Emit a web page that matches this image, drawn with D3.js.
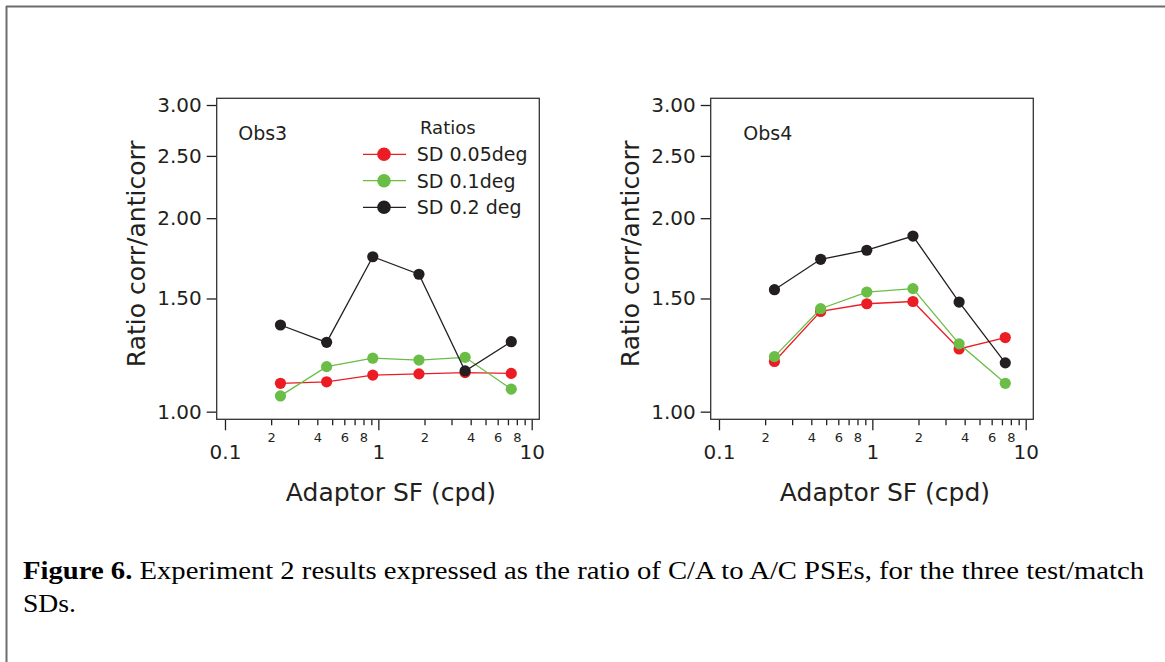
<!DOCTYPE html>
<html>
<head>
<meta charset="utf-8">
<script src="https://cdn.jsdelivr.net/npm/d3@7"></script>
<style>
  html, body { margin: 0; padding: 0; background: #fff; }
  svg { display: block; }
</style>
</head>
<body>
<svg id="chart" width="1165" height="662"></svg>
<script>
// ---- data ----
const adaptorSF = [0.23, 0.46, 0.92, 1.84, 3.68, 7.36];
const seriesNames = ["SD 0.05deg", "SD 0.1deg", "SD 0.2 deg"];
const seriesColors = ["#ec1c24", "#6abd45", "#231f20"];
const obs3_sd005 = [1.107, 1.113, 1.140, 1.145, 1.150, 1.147];
const obs3_sd01  = [1.058, 1.175, 1.211, 1.203, 1.215, 1.084];
const obs3_sd02  = [1.364, 1.282, 1.742, 1.636, 1.157, 1.285];
const obs4_sd005 = [1.197, 1.432, 1.472, 1.484, 1.252, 1.304];
const obs4_sd01  = [1.218, 1.446, 1.535, 1.554, 1.275, 1.107];
const obs4_sd02  = [1.548, 1.726, 1.783, 1.876, 1.481, 1.191];
const yTickValues = [1.00, 1.50, 2.00, 2.50, 3.00];
const xMajorTicks = [0.1, 1, 10];
const xMinorTicks = [0.2,0.3,0.4,0.5,0.6,0.7,0.8,0.9,2,3,4,5,6,7,8,9];
const xMinorLabelled = [2, 4, 6, 8];
const panelTitles = ["Obs3", "Obs4"];
const legendTitle = "Ratios";
const yTitle = "Ratio corr/anticorr";
const xTitle = "Adaptor SF (cpd)";
const captionBold = "Figure 6.";
const captionRest = " Experiment 2 results expressed as the ratio of C/A to A/C PSEs, for the three test/match";
const captionLine2 = "SDs.";

const panels = [
  { title: panelTitles[0], series: [obs3_sd005, obs3_sd01, obs3_sd02], legend: true },
  { title: panelTitles[1], series: [obs4_sd005, obs4_sd01, obs4_sd02], legend: false }
];

const svg = d3.select("#chart");
const FONT = "DejaVu Sans, Verdana, sans-serif";
const SERIF = "'Liberation Serif', 'Times New Roman', Times, serif";
const INK = "#231f20";

svg.append("rect").attr("width", 1165).attr("height", 662).attr("fill", "#fff");
// page border (top and left)
svg.append("line").attr("x1", 6).attr("x2", 1165).attr("y1", 6.5).attr("y2", 6.5)
  .attr("stroke", "#6d6d6d").attr("stroke-width", 2);
svg.append("line").attr("x1", 6.5).attr("x2", 6.5).attr("y1", 6).attr("y2", 662)
  .attr("stroke", "#6d6d6d").attr("stroke-width", 2);

const W = 322.6, H = 321;
const panelLefts = [216.7, 710.7];
const panelTop = 98.3;

const x = d3.scaleLog().domain([Math.pow(10, -1.054), Math.pow(10, 1.0496)]).range([0, W]);
const y = d3.scaleLog().domain([0.973, 3.073]).range([H, 0]);

const mantissa = d => Math.round(d / Math.pow(10, Math.floor(Math.log10(d) + 1e-9)));

panels.forEach((p, pi) => {
  const g = svg.append("g").attr("transform", `translate(${panelLefts[pi]},${panelTop})`);

  // y axis
  const ya = g.append("g").call(d3.axisLeft(y).tickValues(yTickValues)
      .tickFormat(d3.format(".2f")).tickSize(10).tickPadding(5));
  ya.select(".domain").remove();
  ya.selectAll("line").attr("stroke", INK).attr("stroke-width", 1.3);
  ya.selectAll("text").attr("font-family", FONT).attr("font-size", 20).attr("fill", INK);

  // x axis minor
  const xm = g.append("g").attr("transform", `translate(0,${H})`)
    .call(d3.axisBottom(x).tickValues(xMinorTicks).tickSize(6).tickPadding(7)
      .tickFormat(d => xMinorLabelled.includes(mantissa(d)) ? String(mantissa(d)) : ""));
  xm.select(".domain").remove();
  xm.selectAll("line").attr("stroke", INK).attr("stroke-width", 1.3);
  xm.selectAll("text").attr("font-family", FONT).attr("font-size", 13).attr("fill", INK);

  // x axis major
  const xM = g.append("g").attr("transform", `translate(0,${H})`)
    .call(d3.axisBottom(x).tickValues(xMajorTicks).tickSize(11).tickPadding(15)
      .tickFormat(d => d < 1 ? "0.1" : String(d)));
  xM.select(".domain").remove();
  xM.selectAll("line").attr("stroke", INK).attr("stroke-width", 1.3);
  xM.selectAll("text").attr("font-family", FONT).attr("font-size", 20).attr("fill", INK);

  // frame
  g.append("rect").attr("x", 0).attr("y", 0).attr("width", W).attr("height", H)
    .attr("fill", "none").attr("stroke", "#333").attr("stroke-width", 1.3);

  // axis titles
  g.append("text").attr("transform", `translate(${-71.5},${H / 2 - 5}) rotate(-90)`)
    .attr("text-anchor", "middle").attr("font-family", FONT).attr("font-size", 25)
    .attr("fill", INK).text(yTitle);
  g.append("text").attr("x", W / 2 + 13).attr("y", 500.7 - panelTop)
    .attr("text-anchor", "middle").attr("font-family", FONT).attr("font-size", 25)
    .attr("fill", INK).text(xTitle);

  // panel label
  g.append("text").attr("x", pi === 0 ? 21.5 : 32.6).attr("y", 140 - panelTop)
    .attr("font-family", FONT).attr("font-size", 19).attr("fill", INK).text(p.title);

  // series
  const line = d3.line().x((d, i) => x(adaptorSF[i])).y(d => y(d));
  p.series.forEach((vals, si) => {
    const sg = g.append("g");
    sg.append("path").datum(vals).attr("d", line).attr("fill", "none")
      .attr("stroke", seriesColors[si]).attr("stroke-width", 1.3);
    sg.selectAll("circle").data(vals).enter().append("circle")
      .attr("cx", (d, i) => x(adaptorSF[i])).attr("cy", d => y(d)).attr("r", 5.6)
      .attr("fill", seriesColors[si]);
  });

  // legend
  if (p.legend) {
    const lg = g.append("g");
    lg.append("text").attr("x", 420 - panelLefts[0]).attr("y", 134.5 - panelTop)
      .attr("font-family", FONT).attr("font-size", 18).attr("fill", INK).text(legendTitle);
    const rows = [154.3, 180.7, 207.3];
    seriesNames.forEach((name, si) => {
      const cy = rows[si] - panelTop;
      lg.append("line").attr("x1", 363 - panelLefts[0]).attr("x2", 406 - panelLefts[0])
        .attr("y1", cy).attr("y2", cy).attr("stroke", seriesColors[si]).attr("stroke-width", 1.3);
      lg.append("circle").attr("cx", 384 - panelLefts[0]).attr("cy", cy).attr("r", 6.8)
        .attr("fill", seriesColors[si]);
      lg.append("text").attr("x", 416.7 - panelLefts[0]).attr("y", cy + 7)
        .attr("font-family", FONT).attr("font-size", 19).attr("fill", INK).text(name);
    });
  }
});

// caption
const cap = svg.append("text").attr("x", 23).attr("y", 579)
  .attr("font-family", SERIF).attr("font-size", 26)
  .attr("fill", "#000").attr("textLength", 1121).attr("lengthAdjust", "spacingAndGlyphs");
cap.append("tspan").attr("font-weight", "bold").text(captionBold);
cap.append("tspan").text(captionRest);
svg.append("text").attr("x", 23).attr("y", 612)
  .attr("font-family", SERIF).attr("font-size", 26)
  .attr("fill", "#000").attr("textLength", 53).attr("lengthAdjust", "spacingAndGlyphs")
  .text(captionLine2);
</script>
</body>
</html>
